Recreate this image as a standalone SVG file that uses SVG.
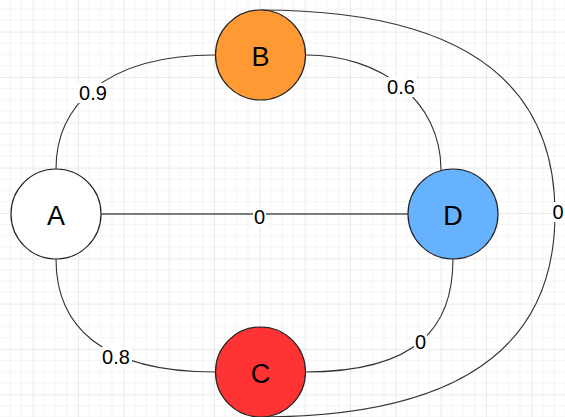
<svg xmlns="http://www.w3.org/2000/svg" width="565" height="417" viewBox="0 0 565 417">
<style>
.node{stroke:#222;stroke-width:1.2}
.ntext{font-family:"Liberation Sans",Arial,sans-serif;font-size:27px;fill:#000;text-anchor:middle;dominant-baseline:central}
.edge{fill:none;stroke:#333;stroke-width:1.1}
.ltext{font-family:"Liberation Sans",Arial,sans-serif;font-size:20px;fill:#000;text-anchor:middle;dominant-baseline:central}
.lbg{fill:#fff}
</style>
<defs>
<pattern id="grid" patternUnits="userSpaceOnUse" x="32.67" y="31.67" width="45.33" height="45.33">
<rect x="0" y="0" width="45.33" height="45.33" fill="#fff"/>
<g stroke="#f4f4f4" stroke-width="1">
<line x1="11.33" y1="0" x2="11.33" y2="45.33"/>
<line x1="22.67" y1="0" x2="22.67" y2="45.33"/>
<line x1="34" y1="0" x2="34" y2="45.33"/>
<line x1="0" y1="11.33" x2="45.33" y2="11.33"/>
<line x1="0" y1="22.67" x2="45.33" y2="22.67"/>
<line x1="0" y1="34" x2="45.33" y2="34"/>
</g>
<g stroke="#eaeaea" stroke-width="1">
<line x1="0.5" y1="0" x2="0.5" y2="45.33"/>
<line x1="0" y1="0.5" x2="45.33" y2="0.5"/>
</g>
</pattern>
</defs>
<rect width="565" height="417" fill="url(#grid)"/>
<g id="connectors">
<path class="edge" d="M56,169 C56,110 100,55 215,55"/>
<path class="edge" d="M306,55 C380,55 441,100 441,170"/>
<path class="edge" d="M101,214 L408,214" style="stroke:#555;stroke-width:1.4"/>
<path class="edge" d="M56,259 C56,325 100,372 215,372"/>
<path class="edge" d="M453,259 C453,325 420,372 305,372"/>
<path class="edge" d="M260,10 Q555,10 555,213.5 Q555,417 260,417"/>
<g id="labels">
<rect class="lbg" x="78" y="83" width="31" height="20"/>
<text class="ltext" x="93" y="93">0.9</text>
<rect class="lbg" x="386" y="77" width="31" height="20"/>
<text class="ltext" x="401" y="87">0.6</text>
<rect class="lbg" x="253" y="207" width="13" height="20"/>
<text class="ltext" x="259.5" y="217">0</text>
<rect class="lbg" x="101" y="347" width="31" height="20"/>
<text class="ltext" x="116" y="357">0.8</text>
<rect class="lbg" x="414" y="332" width="13" height="20"/>
<text class="ltext" x="420.5" y="342">0</text>
<rect class="lbg" x="552" y="202" width="13" height="20"/>
<text class="ltext" x="558" y="212">0</text>
</g>
</g>
<g id="node-A">
<circle class="node" cx="56" cy="214" r="45" fill="#ffffff"/>
<text class="ntext" x="56" y="216">A</text>
</g>
<g id="node-B">
<circle class="node" cx="260.5" cy="55" r="45" fill="#FF9933"/>
<text class="ntext" x="260.5" y="57">B</text>
</g>
<g id="node-D">
<circle class="node" cx="453" cy="214" r="45" fill="#66B2FF"/>
<text class="ntext" x="453" y="216">D</text>
</g>
<g id="node-C">
<circle class="node" cx="260.5" cy="372" r="45" fill="#FF3333"/>
<text class="ntext" x="260.5" y="374">C</text>
</g>
</svg>
